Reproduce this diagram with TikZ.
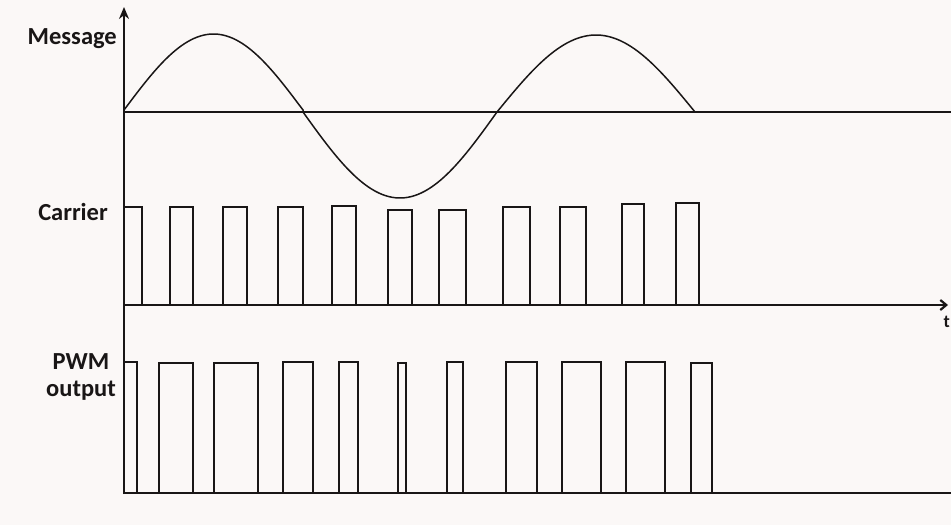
\documentclass[tikz,border=0pt]{standalone}
\usepackage{fontspec}
\setmainfont{Carlito}
\usetikzlibrary{arrows.meta}
\definecolor{bgc}{RGB}{251,248,247}
\definecolor{ink}{RGB}{25,22,22}
\tikzset{
  axisline/.style={draw=ink, line width=2.2pt},
  pulse/.style={draw=ink, line width=1.8pt, line join=miter},
  wave/.style={draw=ink, line width=1.5pt},
  lbl/.style={font=\bfseries\fontsize{24.5}{28}\selectfont, text=ink, inner sep=0pt},
}
\begin{document}
\begin{tikzpicture}[x=1pt,y=-1pt]
\useasboundingbox (0,0) rectangle (951,525);
\fill[bgc] (0,0) rectangle (951,525);
% coordinates
\coordinate (ytop) at (124,7);
\coordinate (ybot) at (124,494);
\coordinate (m0) at (124,112);
\coordinate (m1) at (951,112);
\coordinate (c0) at (124,305);
\coordinate (c1) at (948,305);
\coordinate (p0) at (124,493);
\coordinate (p1) at (951,493);
% axes
\draw[axisline, -{Stealth[length=12pt,width=10pt]}] (ybot) -- (ytop);
\draw[axisline] (m0) -- (m1);
\draw[axisline, -{Straight Barb[length=6pt,width=10pt]}] (c0) -- (c1);
\draw[axisline] (p0) -- (p1);
% message sine (three half-waves)
\draw[wave] plot[domain=124:303, samples=60, smooth] (\x, {110-76*sin(((\x-124)/179)*180)})
  -- plot[domain=303:497, samples=60, smooth] (\x, {112+86*sin(((\x-303)/194)*180)})
  -- plot[domain=497:695, samples=60, smooth] (\x, {112-77*sin(((\x-497)/198)*180)});
% carrier pulses
\foreach \a/\b/\t in {124/142/207,170/193/207,223/247/207,278/303/207,332/356/206,388/412/210,439/466/210,503/530/207,560/586/207,622/644/204,676/699/203}{
  \draw[pulse] (\a,305) -- (\a,\t) -- (\b,\t) -- (\b,305);
}
% PWM pulses
\foreach \a/\b/\t in {124/137/362,159/193/363,214/258/363,283/313/362,339/358/362,398/406/363,447/463/362,506/537/362,562/601/362,626/665/362,691/712/363}{
  \draw[pulse] (\a,493) -- (\a,\t) -- (\b,\t) -- (\b,493);
}
% labels
\node[lbl, anchor=east] (msg) at (117,39) {Message};
\node[lbl, anchor=east] (car) at (108,212) {Carrier};
\node[lbl, align=center, anchor=center, font=\bfseries\fontsize{24.5}{27}\selectfont] (pwm) at (81,377) {PWM\\output};
\node[lbl, anchor=east, font=\bfseries\fontsize{18}{20}\selectfont] (tl) at (950,322) {t};
\end{tikzpicture}
\end{document}
